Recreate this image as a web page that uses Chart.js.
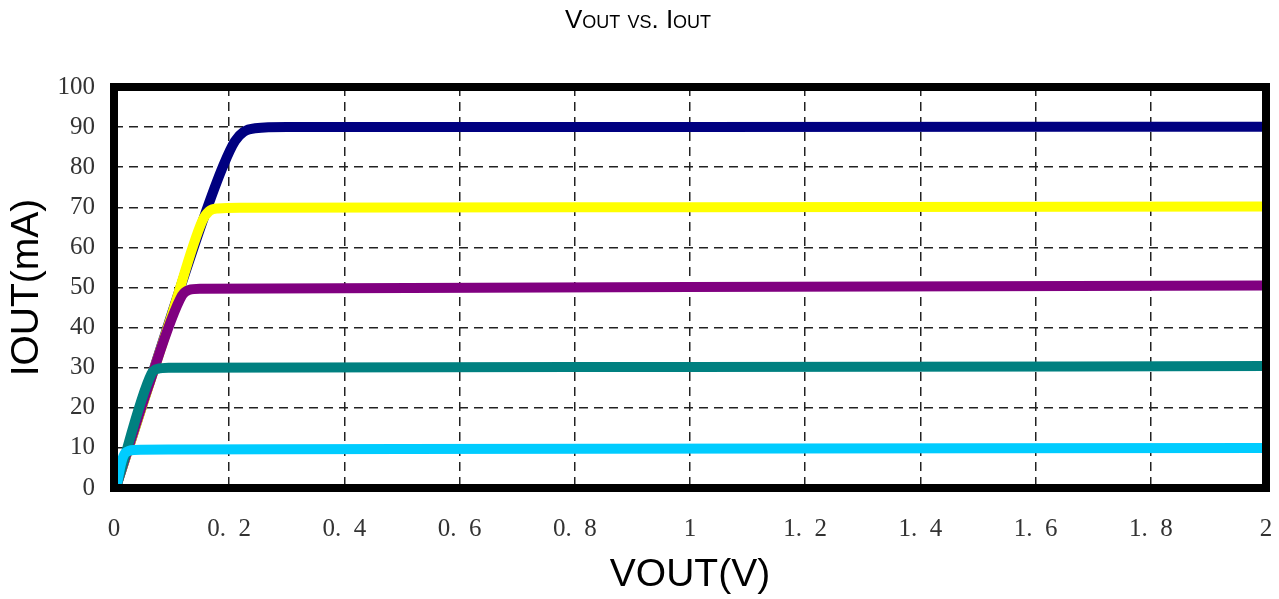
<!DOCTYPE html>
<html>
<head>
<meta charset="utf-8">
<script src="https://cdn.jsdelivr.net/npm/chart.js@4.4.1/dist/chart.umd.min.js"></script>
<style>
body { margin: 0; background: #fff; }
#wrap { position: relative; width: 1279px; height: 599px; }
#title { position: absolute; top: 4px; left: 0; width: 1276px; text-align: center;
  font-family: "Liberation Sans", Arial, sans-serif; font-size: 26px; font-variant: small-caps; color: #000; }
</style>
</head>
<body>
<div id="wrap">
<canvas id="myChart" width="1279" height="599"></canvas>
<div id="title">Vout vs. Iout</div>
</div>
<script>
// curves: VOUT (V) and IOUT (mA)
var cyanV = [0.004, 0.012, 0.02, 0.035, 0.1, 0.5, 1.5, 2];
var cyanI = [0, 6, 8.8, 9.5, 9.6, 9.7, 9.9, 10.0];

var tealV = [0.003, 0.065, 0.075, 0.095, 1, 2];
var tealI = [0, 28.5, 29.7, 30.0, 30.2, 30.4];

var purpleV = [0.003, 0.059, 0.118, 0.13, 0.15, 1, 2];
var purpleI = [0, 25, 48, 49.4, 49.7, 50.1, 50.5];

var yellowV = [0.003, 0.1, 0.153, 0.165, 0.18, 0.22, 1, 2];
var yellowI = [0, 43, 66.5, 69, 69.7, 69.9, 70.0, 70.2];

var navyV = [0.003, 0.155, 0.19, 0.21, 0.225, 0.245, 0.3, 1, 2];
var navyI = [0, 67, 80.5, 86.5, 88.8, 89.7, 90, 90, 90.1];

var seriesNames = ['10mA', '30mA', '50mA', '70mA', '90mA'];
var seriesColors = ['#00CCFF', '#008080', '#800080', '#FFFF00', '#000080'];

function toPoints(xs, ys) {
	var pts = [];
	for (var i = 0; i < xs.length; i++) {
		pts.push({ x: xs[i], y: ys[i] });
	}
	return pts;
}

var allV = [cyanV, tealV, purpleV, yellowV, navyV];
var allI = [cyanI, tealI, purpleI, yellowI, navyI];
var datasets = [];
for (var i = 0; i < allV.length; i++) {
	datasets.push({
		label: seriesNames[i],
		data: toPoints(allV[i], allI[i]),
		borderColor: seriesColors[i],
		backgroundColor: seriesColors[i],
		borderWidth: 10,
		borderJoinStyle: 'round',
		cubicInterpolationMode: 'monotone',
		pointRadius: 0,
		fill: false
	});
}

var framePlugin = {
	id: 'frame',
	afterDatasetsDraw: function(chart) {
		var a = chart.chartArea;
		var ctx = chart.ctx;
		ctx.save();
		ctx.strokeStyle = '#000';
		ctx.lineWidth = 8;
		ctx.strokeRect(a.left, a.top, a.right - a.left, a.bottom - a.top);
		ctx.restore();
	}
};

function fmtTick(v) {
	var s = String(Math.round(v * 10) / 10);
	return s.replace('.', '.  ');
}

var ctx = document.getElementById('myChart').getContext('2d');
var myChart = new Chart(ctx, {
	type: 'line',
	data: { datasets: datasets },
	plugins: [framePlugin],
	options: {
		responsive: false,
		animation: false,
		layout: { padding: { top: 87, right: 13, left: 0, bottom: 0 } },
		plugins: {
			legend: { display: false },
			tooltip: { enabled: false }
		},
		scales: {
			x: {
				type: 'linear',
				min: 0,
				max: 2,
				afterFit: function(s) {
					s.height = 111;
					s.paddingLeft = 6;
					s.paddingRight = 6;
				},
				ticks: {
					stepSize: 0.2,
					padding: 26,
					autoSkip: false,
					maxRotation: 0,
					color: '#333',
					font: { family: 'Liberation Serif', size: 25 },
					callback: function(v) { return fmtTick(v); }
				},
				grid: { color: '#222', lineWidth: 1.5, drawTicks: false },
				border: { display: false, dash: [9, 6] },
				title: {
					display: true,
					text: 'VOUT(V)',
					color: '#000',
					font: { family: 'Liberation Sans', size: 39 },
					padding: { top: 0, bottom: 0 }
				}
			},
			y: {
				min: 0,
				max: 100,
				afterFit: function(s) { s.width = 114; },
				ticks: {
					stepSize: 10,
					padding: 19,
					color: '#333',
					font: { family: 'Liberation Serif', size: 25 }
				},
				grid: { color: '#222', lineWidth: 1.5, drawTicks: false },
				border: { display: false, dash: [9, 6] },
				title: {
					display: true,
					text: 'IOUT(mA)',
					color: '#000',
					font: { family: 'Liberation Sans', size: 39 },
					padding: { top: 4, bottom: 0 }
				}
			}
		}
	}
});
</script>
</body>
</html>
